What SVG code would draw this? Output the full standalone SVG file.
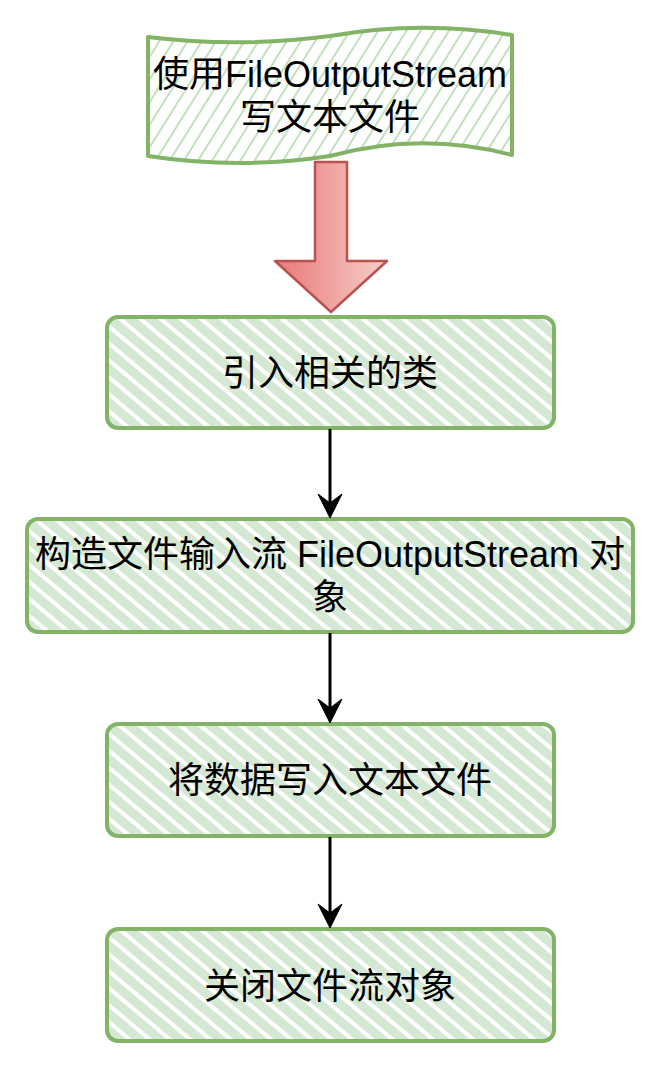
<svg xmlns="http://www.w3.org/2000/svg" width="670" height="1070" viewBox="0 0 670 1070">
  <style>
    .box { fill: url(#hatchBox); stroke: #82b366; stroke-width: 4; }
    .tape { fill: url(#hatchThin); stroke: #82b366; stroke-width: 4; stroke-linejoin: round; }
    .lbl { font-family: "Liberation Sans", "Noto Sans CJK SC", sans-serif; font-size: 36px; fill: #000; text-anchor: middle; }
    .conn { stroke: #000; stroke-width: 3; fill: none; }
    .head { fill: #000; stroke: #000; stroke-width: 1; }
  </style>
  <defs>
    <pattern id="hatchBox" patternUnits="userSpaceOnUse" width="13" height="13" patternTransform="rotate(40)">
      <rect width="13" height="13" fill="#ffffff"/>
      <rect x="0" y="0" width="13" height="9" fill="#d5e8d4"/>
    </pattern>
    <pattern id="hatchThin" patternUnits="userSpaceOnUse" width="12" height="12" patternTransform="rotate(-58)">
      <rect width="12" height="12" fill="#ffffff"/>
      <rect x="0" y="0" width="12" height="2" fill="#c4dfbd"/>
    </pattern>
    <linearGradient id="redGrad" x1="0" y1="0" x2="1" y2="0">
      <stop offset="0" stop-color="#e87874"/>
      <stop offset="1" stop-color="#f8cfcd"/>
    </linearGradient>
  </defs>

  <g id="node-start">
    <path class="tape" d="M148,37 Q239,48 330,36 Q421,20 512,35 L512,155 Q421,131 330,156 Q239,170 148,156 Z"/>
    <text class="lbl" x="330" y="87">使用FileOutputStream</text>
    <text class="lbl" x="330" y="130">写文本文件</text>
  </g>

  <g id="node-bigarrow">
    <path d="M315,162 L347,162 L347,261 L387,261 L331,312 L275,261 L315,261 Z" fill="url(#redGrad)" stroke="#b85450" stroke-width="2.5" stroke-linejoin="round"/>
  </g>

  <g id="node-import">
    <rect class="box" x="107" y="317" width="447" height="111" rx="11"/>
    <text class="lbl" x="330" y="386">引入相关的类</text>
  </g>

  <g id="node-construct">
    <rect class="box" x="27" y="519" width="606" height="113" rx="11"/>
    <text class="lbl" x="330" y="567">构造文件输入流 FileOutputStream 对</text>
    <text class="lbl" x="330" y="610">象</text>
  </g>

  <g id="node-write">
    <rect class="box" x="107" y="724" width="447" height="112" rx="11"/>
    <text class="lbl" x="330" y="793">将数据写入文本文件</text>
  </g>

  <g id="node-close">
    <rect class="box" x="107" y="929" width="447" height="112" rx="11"/>
    <text class="lbl" x="330" y="999">关闭文件流对象</text>
  </g>

  <g id="connectors">
    <line class="conn" x1="330" y1="429" x2="330" y2="505"/>
    <path class="head" d="M330,518 L318,494 L330,503 L342,494 Z"/>
    <line class="conn" x1="330" y1="633" x2="330" y2="710"/>
    <path class="head" d="M330,723 L318,699 L330,708 L342,699 Z"/>
    <line class="conn" x1="330" y1="837" x2="330" y2="915"/>
    <path class="head" d="M330,928 L318,904 L330,913 L342,904 Z"/>
  </g>
</svg>
